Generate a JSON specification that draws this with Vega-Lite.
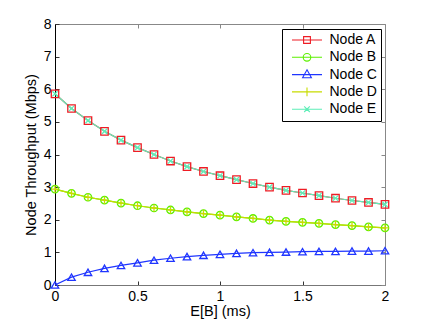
{
  "$schema": "https://vega.github.io/schema/vega-lite/v6.json",
  "width": 330,
  "height": 261,
  "autosize": "none",
  "padding": {"left": 55, "top": 24, "right": 41, "bottom": 36},
  "background": "white",
  "config": {
    "font": "Liberation Sans",
    "view": {"stroke": null},
    "axis": {"grid": false, "labelFont": "Liberation Sans", "titleFont": "Liberation Sans", "labelFontSize": 14, "titleFontSize": 14.5, "labelColor": "#000", "titleColor": "#000", "titleFontWeight": "normal", "tickColor": "#333", "domainWidth": 1}
  },
  "data": {"values": [
    {"x":0,"node":"Node A","y":5.86},{"x":0.1,"node":"Node A","y":5.41},{"x":0.2,"node":"Node A","y":5.04},{"x":0.3,"node":"Node A","y":4.71},{"x":0.4,"node":"Node A","y":4.44},{"x":0.5,"node":"Node A","y":4.21},{"x":0.6,"node":"Node A","y":4.0},{"x":0.7,"node":"Node A","y":3.8},{"x":0.8,"node":"Node A","y":3.63},{"x":0.9,"node":"Node A","y":3.48},{"x":1.0,"node":"Node A","y":3.35},{"x":1.1,"node":"Node A","y":3.23},{"x":1.2,"node":"Node A","y":3.11},{"x":1.3,"node":"Node A","y":3.0},{"x":1.4,"node":"Node A","y":2.9},{"x":1.5,"node":"Node A","y":2.82},{"x":1.6,"node":"Node A","y":2.74},{"x":1.7,"node":"Node A","y":2.66},{"x":1.8,"node":"Node A","y":2.59},{"x":1.9,"node":"Node A","y":2.53},{"x":2.0,"node":"Node A","y":2.47},
    {"x":0,"node":"Node B","y":2.94},{"x":0.1,"node":"Node B","y":2.81},{"x":0.2,"node":"Node B","y":2.69},{"x":0.3,"node":"Node B","y":2.6},{"x":0.4,"node":"Node B","y":2.51},{"x":0.5,"node":"Node B","y":2.43},{"x":0.6,"node":"Node B","y":2.36},{"x":0.7,"node":"Node B","y":2.3},{"x":0.8,"node":"Node B","y":2.24},{"x":0.9,"node":"Node B","y":2.19},{"x":1.0,"node":"Node B","y":2.14},{"x":1.1,"node":"Node B","y":2.09},{"x":1.2,"node":"Node B","y":2.04},{"x":1.3,"node":"Node B","y":1.99},{"x":1.4,"node":"Node B","y":1.95},{"x":1.5,"node":"Node B","y":1.92},{"x":1.6,"node":"Node B","y":1.89},{"x":1.7,"node":"Node B","y":1.85},{"x":1.8,"node":"Node B","y":1.82},{"x":1.9,"node":"Node B","y":1.78},{"x":2.0,"node":"Node B","y":1.75},
    {"x":0,"node":"Node C","y":0.0},{"x":0.1,"node":"Node C","y":0.24},{"x":0.2,"node":"Node C","y":0.39},{"x":0.3,"node":"Node C","y":0.51},{"x":0.4,"node":"Node C","y":0.6},{"x":0.5,"node":"Node C","y":0.68},{"x":0.6,"node":"Node C","y":0.76},{"x":0.7,"node":"Node C","y":0.82},{"x":0.8,"node":"Node C","y":0.87},{"x":0.9,"node":"Node C","y":0.91},{"x":1.0,"node":"Node C","y":0.94},{"x":1.1,"node":"Node C","y":0.97},{"x":1.2,"node":"Node C","y":0.99},{"x":1.3,"node":"Node C","y":1.0},{"x":1.4,"node":"Node C","y":1.01},{"x":1.5,"node":"Node C","y":1.02},{"x":1.6,"node":"Node C","y":1.03},{"x":1.7,"node":"Node C","y":1.03},{"x":1.8,"node":"Node C","y":1.04},{"x":1.9,"node":"Node C","y":1.04},{"x":2.0,"node":"Node C","y":1.05},
    {"x":0,"node":"Node D","y":2.94},{"x":0.1,"node":"Node D","y":2.81},{"x":0.2,"node":"Node D","y":2.69},{"x":0.3,"node":"Node D","y":2.6},{"x":0.4,"node":"Node D","y":2.51},{"x":0.5,"node":"Node D","y":2.43},{"x":0.6,"node":"Node D","y":2.36},{"x":0.7,"node":"Node D","y":2.3},{"x":0.8,"node":"Node D","y":2.24},{"x":0.9,"node":"Node D","y":2.19},{"x":1.0,"node":"Node D","y":2.14},{"x":1.1,"node":"Node D","y":2.09},{"x":1.2,"node":"Node D","y":2.04},{"x":1.3,"node":"Node D","y":1.99},{"x":1.4,"node":"Node D","y":1.95},{"x":1.5,"node":"Node D","y":1.92},{"x":1.6,"node":"Node D","y":1.89},{"x":1.7,"node":"Node D","y":1.85},{"x":1.8,"node":"Node D","y":1.82},{"x":1.9,"node":"Node D","y":1.78},{"x":2.0,"node":"Node D","y":1.75},
    {"x":0,"node":"Node E","y":5.86},{"x":0.1,"node":"Node E","y":5.41},{"x":0.2,"node":"Node E","y":5.04},{"x":0.3,"node":"Node E","y":4.71},{"x":0.4,"node":"Node E","y":4.44},{"x":0.5,"node":"Node E","y":4.21},{"x":0.6,"node":"Node E","y":4.0},{"x":0.7,"node":"Node E","y":3.8},{"x":0.8,"node":"Node E","y":3.63},{"x":0.9,"node":"Node E","y":3.48},{"x":1.0,"node":"Node E","y":3.35},{"x":1.1,"node":"Node E","y":3.23},{"x":1.2,"node":"Node E","y":3.11},{"x":1.3,"node":"Node E","y":3.0},{"x":1.4,"node":"Node E","y":2.9},{"x":1.5,"node":"Node E","y":2.82},{"x":1.6,"node":"Node E","y":2.74},{"x":1.7,"node":"Node E","y":2.66},{"x":1.8,"node":"Node E","y":2.59},{"x":1.9,"node":"Node E","y":2.53},{"x":2.0,"node":"Node E","y":2.47}
  ]},
  "layer": [
    {
      "mark": {"type": "line", "strokeWidth": 1.2},
      "encoding": {
        "x": {"field": "x", "type": "quantitative", "scale": {"domain": [0, 2], "nice": false}, "axis": {"orient": "top", "labels": false, "title": null, "values": [0, 0.5, 1, 1.5, 2], "tickSize": -4, "domainColor": "#888", "tickColor": "#888"}},
        "y": {"field": "y", "type": "quantitative", "scale": {"domain": [0, 8], "nice": false}, "axis": {"orient": "right", "labels": false, "title": null, "values": [0,1,2,3,4,5,6,7,8], "tickSize": -4, "domainColor": "#888", "tickColor": "#888"}},
        "color": {"field": "node", "type": "nominal", "scale": {"domain": ["Node A","Node B","Node C","Node D","Node E"], "range": ["#ee1c24","#5cf000","#1f35ff","#c8dc00","#5eeeb8"]}}
      }
    },
    {
      "mark": {"type": "point", "filled": false, "size": 55, "strokeWidth": 1.3, "opacity": 1},
      "encoding": {
        "x": {"field": "x", "type": "quantitative", "axis": {"orient": "bottom", "title": "E[B] (ms)", "values": [0, 0.5, 1, 1.5, 2], "format": "~g", "tickSize": -4, "labelPadding": 8, "titlePadding": 1, "domainColor": "#777", "labelFlush": false}},
        "y": {"field": "y", "type": "quantitative", "axis": {"orient": "left", "title": "Node Throughput (Mbps)", "values": [0,1,2,3,4,5,6,7,8], "tickSize": -4, "labelPadding": 8, "titlePadding": 5, "domainColor": "#000"}},
        "color": {"field": "node", "type": "nominal"},
        "shape": {"condition": [
          {"test": "datum.node === 'Node A'", "value": "square"},
          {"test": "datum.node === 'Node B'", "value": "circle"},
          {"test": "datum.node === 'Node C'", "value": "triangle-up"},
          {"test": "datum.node === 'Node D'", "value": "M-1,0H1M0,-1V1"}
        ], "value": "M-0.7,-0.7L0.7,0.7M-0.7,0.7L0.7,-0.7"}
      }
    },
    {
      "transform": [{"filter": "false"}],
      "mark": {"type": "point", "filled": false, "strokeWidth": 1.1},
      "encoding": {
        "x": {"field": "x", "type": "quantitative", "axis": null},
        "y": {"field": "y", "type": "quantitative", "axis": null},
        "color": {"field": "node", "type": "nominal", "legend": {
          "title": null, "orient": "top-right", "offset": 4.5,
          "strokeColor": "#000", "fillColor": "#fff", "padding": 4,
          "labelFontSize": 14, "labelFont": "Liberation Sans", "labelColor": "#000",
          "symbolSize": 64, "symbolStrokeWidth": 1.1, "labelOffset": 29.5, "rowPadding": 3.3
        }},
        "shape": {"field": "node", "type": "nominal", "scale": {"domain": ["Node A","Node B","Node C","Node D","Node E"], "range": [
          "M-0.25,0H7.25M2.65,-0.85H4.35V0.85H2.65Z",
          "M-0.25,0H7.25M4.45,0A0.95,0.95 0 1,1 2.55,0A0.95,0.95 0 1,1 4.45,0Z",
          "M-0.25,0H7.25M3.5,-1.2L4.6,0.8H2.4Z",
          "M-0.25,0H7.25M3.5,-1.1V1.1",
          "M-0.25,0H7.25M2.8,-0.7L4.2,0.7M2.8,0.7L4.2,-0.7"
        ]}}
      }
    }
  ],
  "resolve": {"axis": {"x": "independent", "y": "independent"}}
}
